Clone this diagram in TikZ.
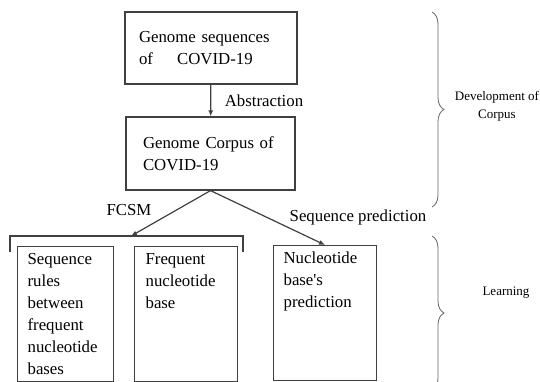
\documentclass[tikz,border=0pt]{standalone}
\usepackage{fontspec}
\setmainfont{Liberation Serif}
\usetikzlibrary{arrows.meta}
\usetikzlibrary{decorations.pathreplacing}

\tikzset{
  box/.style={draw=black!75, line width=1.2pt, align=left, inner ysep=0pt},
  tallbox/.style={draw=black!75, line width=1.2pt, anchor=north west, inner xsep=10pt, inner ysep=6.5pt},
  arr/.style={draw=black!75, line width=1.2pt, -{Latex[length=6pt,width=5pt]}},
  lbl/.style={inner sep=0pt},
  small/.style={inner sep=0pt, align=center, font=\fontsize{13}{18}\selectfont},
  brc/.style={draw=black!60, line width=0.8pt, decorate, decoration={brace, amplitude=12pt}}
}

\begin{document}
\begin{tikzpicture}[x=1pt, y=-1pt, font=\fontsize{16.8}{22}\selectfont]
\useasboundingbox (0,0) rectangle (540,382);

\node[box, minimum width=172pt, minimum height=72pt, text width=144pt, inner xsep=14pt] (genome) at (211,48) {Genome sequences\\of\hspace{1.1em} COVID-19};
\node[box, minimum width=169pt, minimum height=73pt, text width=135pt, inner xsep=17pt] (corpus) at (210.5,153.5) {Genome Corpus of\\COVID-19};

\draw[arr] (genome) -- (corpus);
\node[lbl] (abs) at (264,101) {Abstraction};

\coordinate (fork) at (131,236);
\draw[draw=black!75, line width=1.2pt] (10,252) |- (fork) -| (243,252);

\node[tallbox] (rules) at (17,246) {\parbox[t][122pt][t]{76pt}{Sequence\\rules\\between\\frequent\\nucleotide\\bases}};
\node[tallbox, inner xsep=11pt] (freq) at (134,246) {\parbox[t][122pt][t]{81pt}{Frequent\\nucleotide\\base}};
\node[tallbox] (pred) at (273,245) {\parbox[t][122pt][t]{83pt}{Nucleotide\\base\textquotesingle s\\prediction}};

\draw[arr] (corpus.south) -- (fork);
\draw[arr] (corpus.south) -- (pred.north);
\node[lbl] (fcsm) at (129,210) {FCSM};
\node[lbl] (seqp) at (358,217) {Sequence prediction};

\draw[brc] (432,12) -- (432,207);
\draw[brc] (432,236) -- (432,390);
\node[small] (dev) at (497,106) {Development of\\Corpus};
\node[small] (learn) at (506,293) {Learning};
\end{tikzpicture}
\end{document}
